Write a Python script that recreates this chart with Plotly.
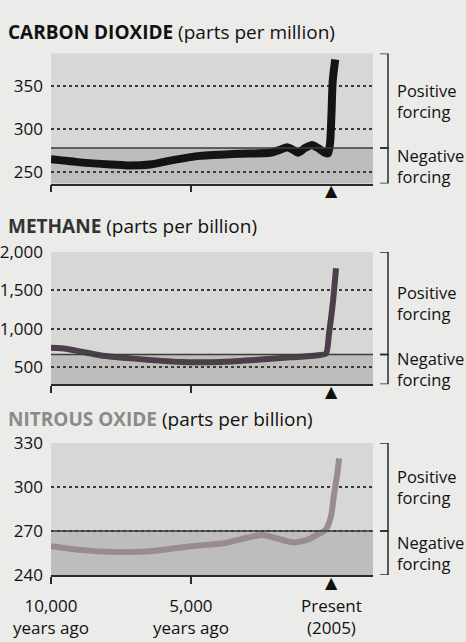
import plotly.graph_objects as go

# ---- data (years relative to 2005; negative = years ago) ----
co2_years = [-10000, -8964, -7893, -7286, -6464, -5750, -4679, -3250, -2179, -1821, -1571,
             -1357, -1179, -929, -679, -464, -214, -100, -30, 20, 60, 150]
co2_ppm = [265, 261.5, 259, 258, 259, 263.5, 269, 271.5, 272.5, 276, 279,
           276, 272.5, 278, 281.5, 278, 272.5, 272, 285, 320, 355, 380]

ch4_years = [-10000, -9464, -8929, -8214, -7143, -5357, -3929, -2857, -1429, -536, -179, -70, 70, 180]
ch4_ppb = [750, 737, 700, 650, 612, 565, 565, 587, 625, 650, 675, 940, 1350, 1790]

n2o_years = [-10000, -8877, -7790, -6340, -5000, -3804, -2464, -1377, -906, -543, -181, 0, 109, 217, 290]
n2o_ppb = [259.7, 257, 255.8, 256.4, 259.7, 261.7, 267.3, 262.3, 263.6, 267, 271, 280, 295, 308, 319.5]

gas_titles = ["CARBON DIOXIDE", "METHANE", "NITROUS OXIDE"]
gas_units = ["(parts per million)", "(parts per billion)", "(parts per billion)"]
y_ranges = [[237, 387], [275, 2000], [240, 330]]
y_ticks = [[250, 300, 350], [500, 1000, 1500, 2000], [240, 270, 300, 330]]
y_ticktext = [["250", "300", "350"], ["500", "1,000", "1,500", "2,000"], ["240", "270", "300", "330"]]
forcing_levels = [278, 662, 270]
x_ticks = [-10000, -5000]
x_labels = ["10,000<br>years ago", "5,000<br>years ago", "Present<br>(2005)"]
x_label_pos = [-10000, -5000, 0]

series_x = [co2_years, ch4_years, n2o_years]
series_y = [co2_ppm, ch4_ppb, n2o_ppb]

# ---- style ----
W, H = 466, 642
BG = "#ebebe9"
UPPER = "#d7d7d6"
LOWER = "#bdbdbc"
line_colors = ["#141414", "#4a3f4a", "#9a8a93"]
line_widths = [8, 6, 6]
title_colors = ["#111111", "#333333", "#8a8a8a"]
FONT = "Open Sans"

def px(x):
    return x / W

def py(y):
    return 1 - y / H

x_domain = [px(51), px(373)]
y_domains = [[py(178), py(43)], [py(386), py(249)], [py(584), py(447)]]
title_y = [21, 222, 422]

fig = go.Figure()
layout = dict(
    width=W, height=H, margin=dict(l=0, r=0, t=0, b=0),
    paper_bgcolor=BG, plot_bgcolor=UPPER, showlegend=False,
    font=dict(family=FONT, color="#111111"),
)
shapes = []
annotations = []

for i in range(3):
    n = "" if i == 0 else str(i + 1)
    xa, ya = "x" + n, "y" + n
    fig.add_trace(go.Scatter(
        x=series_x[i], y=series_y[i], xaxis=xa, yaxis=ya, mode="lines",
        line=dict(color=line_colors[i], width=line_widths[i], shape="spline", smoothing=0.6),
        hoverinfo="skip", cliponaxis=False,
    ))
    layout["xaxis" + n] = dict(
        domain=x_domain, range=[-10000, 1500], anchor=ya,
        showgrid=False, zeroline=False, showline=True, linecolor="#2a2a2a", linewidth=1.5,
        tickvals=x_ticks, ticks="outside", ticklen=7, tickwidth=1.5, tickcolor="#2a2a2a",
        showticklabels=False, fixedrange=True,
    )
    layout["yaxis" + n] = dict(
        domain=y_domains[i], range=y_ranges[i], anchor=xa,
        tickvals=y_ticks[i], ticktext=y_ticktext[i], ticks="",
        showgrid=True, gridcolor="#3a3a3a", gridwidth=1.8, griddash="dot",
        zeroline=False, showline=False, tickfont=dict(size=17, color="#111111"),
        ticklabelstandoff=7, fixedrange=True,
    )
    lo, hi = y_ranges[i]
    f = forcing_levels[i]
    # negative forcing band
    shapes.append(dict(type="rect", xref=xa + " domain", yref=ya, x0=0, x1=1, y0=lo, y1=f,
                       fillcolor=LOWER, line=dict(width=0), layer="below"))
    # forcing line
    shapes.append(dict(type="line", xref=xa + " domain", yref=ya, x0=0, x1=1, y0=f, y1=f,
                       line=dict(color="#3c3c3c", width=1.5)))
    # brackets
    bx0, bx1 = px(380), px(388)
    for (a, b) in [(hi, f), (f, lo)]:
        shapes.append(dict(type="path", xref="paper", yref=ya,
                           path=f"M {bx0},{a} L {bx1},{a} L {bx1},{b} L {bx0},{b}",
                           line=dict(color="#2a2a2a", width=1.5)))
    annotations.append(dict(xref="paper", yref=ya, x=px(395), y=(hi + f) / 2,
                            text="Positive<br>forcing", showarrow=False, xanchor="left",
                            align="left", font=dict(size=16.5, color="#111111")))
    annotations.append(dict(xref="paper", yref=ya, x=px(395), y=(f + lo) / 2,
                            text="Negative<br>forcing", showarrow=False, xanchor="left",
                            align="left", font=dict(size=16.5, color="#111111")))
    # present marker
    annotations.append(dict(xref=xa, yref=ya + " domain", x=0, y=0, yanchor="middle",
                            text="▲", showarrow=False, yshift=-7,
                            font=dict(size=16, color="#111111", family="DejaVu Sans")))
    # title
    annotations.append(dict(xref="paper", yref="paper", x=px(6), y=py(title_y[i]),
                            xanchor="left", yanchor="middle", showarrow=False,
                            text=f"<b><span style='color:{title_colors[i]}'>{gas_titles[i]}</span></b> {gas_units[i]}",
                            font=dict(size=19, color="#111111")))

# bottom x labels
for xv, lab in zip(x_label_pos, x_labels):
    annotations.append(dict(xref="x3", yref="y3 domain", x=xv, y=0, yanchor="top", yshift=-17,
                            text=lab, showarrow=False, font=dict(size=17, color="#111111"),
                            align="center"))

layout["shapes"] = shapes
layout["annotations"] = annotations
fig.update_layout(**layout)
fig.write_html("out.html", config={"displayModeBar": False},
               post_script="document.body.style.margin='0';document.body.style.background='%s';" % BG)
